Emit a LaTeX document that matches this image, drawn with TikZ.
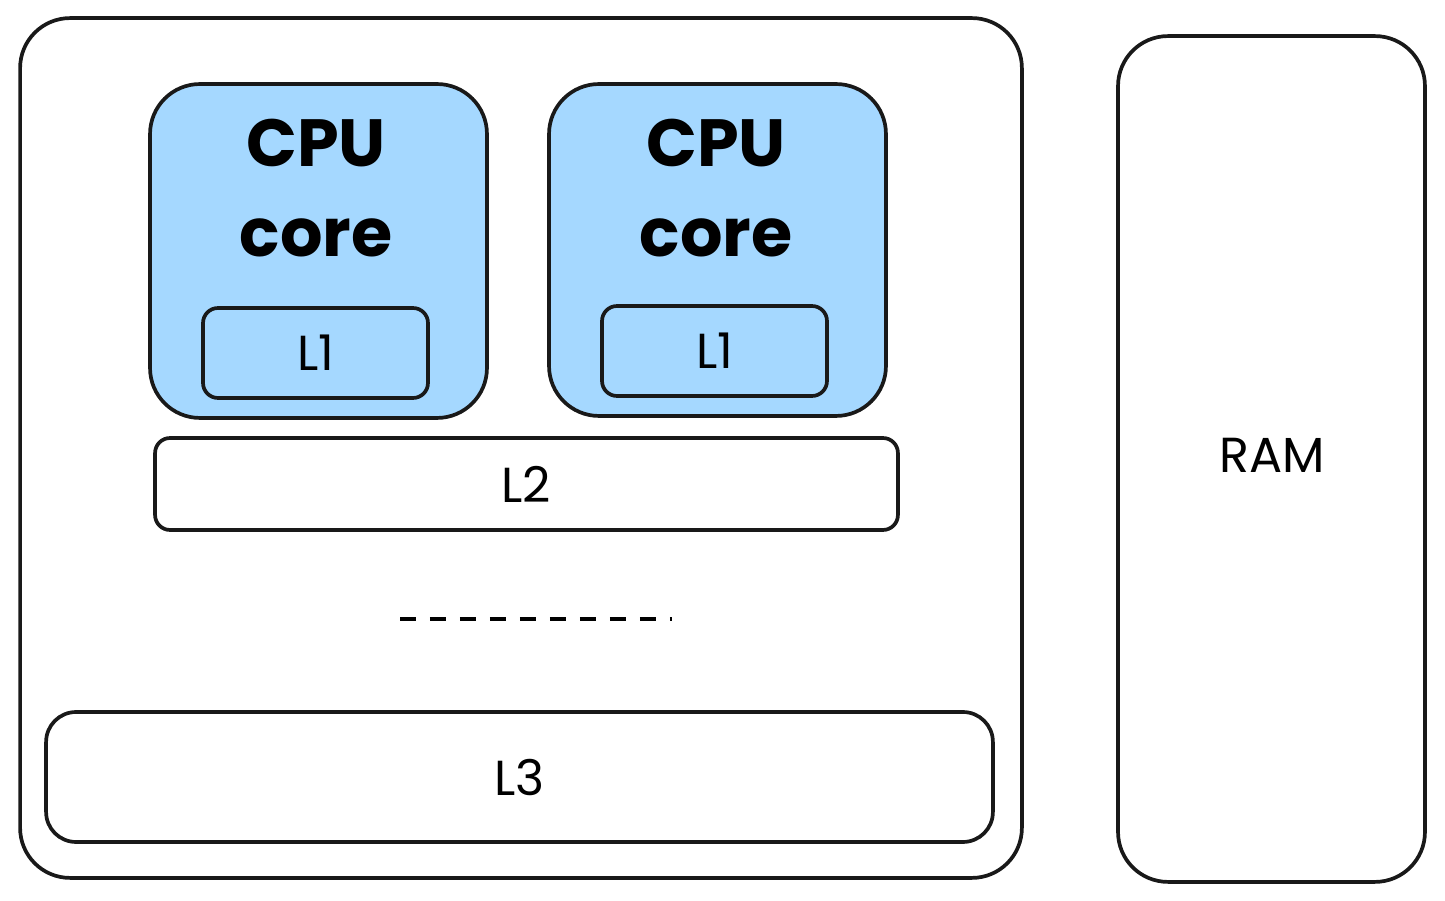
\documentclass[tikz,border=0pt]{standalone}
\usepackage{fontspec}
\setmainfont{Poppins}
\begin{document}
\begin{tikzpicture}[x=0.02cm,y=-0.02cm,
  box/.style={draw=black!90,line width=2.1pt,rectangle,inner sep=0pt},
  cpu/.style={box,fill=bluefill},
  lbl/.style={font=\fontsize{28}{30}\selectfont},
  big/.style={font=\fontsize{38}{40}\selectfont\bfseries}]
\definecolor{bluefill}{HTML}{A5D8FF}
\useasboundingbox (0,0) rectangle (1445,901);
\node[box,rounded corners=1cm,minimum width=20.04cm,minimum height=17.2cm] (outer) at (521,448) {};
\node[box,rounded corners=1cm,minimum width=6.14cm,minimum height=16.92cm] (ram) at (1271.5,459) {};
\node[lbl] (ramt) at (1272,455) {RAM};
\node[cpu,rounded corners=1cm,minimum width=6.74cm,minimum height=6.68cm] (cpu1) at (318.5,251) {};
\node[cpu,rounded corners=1cm,minimum width=6.74cm,minimum height=6.64cm] (cpu2) at (717.5,250) {};
\node[big] (c1) at (316,143) {CPU};
\node[big] (k1) at (316,238) {core};
\node[big] (c2) at (716,143) {CPU};
\node[big] (k2) at (716,238) {core};
\node[box,rounded corners=0.3cm,minimum width=4.5cm,minimum height=1.8cm] (l1a) at (315.5,353) {};
\node[lbl] at (l1a) {L1};
\node[box,rounded corners=0.3cm,minimum width=4.5cm,minimum height=1.8cm] (l1b) at (714.5,351) {};
\node[lbl] at (l1b) {L1};
\node[box,rounded corners=0.3cm,minimum width=14.86cm,minimum height=1.84cm] (l2) at (526.5,484) {};
\node[lbl] at (l2) {L2};
\coordinate (d1) at (400,619);
\coordinate (d2) at (672,619);
\draw[line width=2.1pt,dash pattern=on 0.32cm off 0.28cm] (d1) -- (d2);
\node[box,rounded corners=0.6cm,minimum width=18.94cm,minimum height=2.6cm] (l3) at (519.5,777) {};
\node[lbl] at (l3) {L3};
\end{tikzpicture}
\end{document}
